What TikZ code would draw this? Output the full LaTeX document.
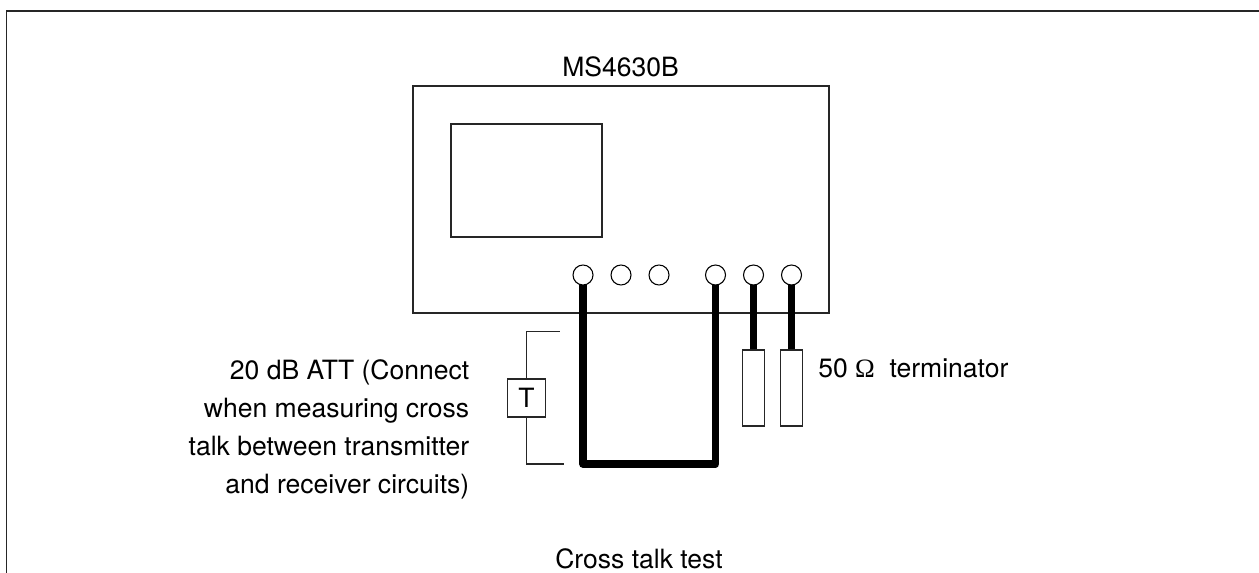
\documentclass[tikz,border=0pt]{standalone}
\usepackage{fontspec}
\setmainfont{TeX Gyre Heros}
\newfontfamily\omegafont{Liberation Serif}
\tikzset{
  px/.style={x=0.75pt,y=-0.75pt},
  thin line/.style={draw=black!85,line width=0.9pt},
  port/.style={circle,draw=black,line width=0.8pt,fill=white,minimum size=15pt,inner sep=0pt},
  cable/.style={line width=5.8pt,line join=round,line cap=butt},
  term/.style={rectangle,draw=black!85,line width=0.8pt,fill=white,minimum width=17pt,minimum height=57pt,inner sep=0pt},
  lbl/.style={inner sep=0pt,font=\fontsize{19.9}{28.5}\selectfont},
}
\begin{document}
\begin{tikzpicture}[px]
\useasboundingbox (0,0) rectangle (1259,573);
\coordinate (ftl) at (6.5,11);
\coordinate (ftr) at (1259,11);
\coordinate (fbl) at (6.5,573);
\draw[thin line] (fbl) -- (ftl) -- (ftr);
\node[thin line,rectangle,minimum width=312pt,minimum height=170.25pt,inner sep=0pt] (dev) at (621,199.5) {};
\node[thin line,rectangle,minimum width=113.25pt,minimum height=84.75pt,inner sep=0pt] (screen) at (526.5,180.5) {};
\node[lbl,anchor=base] (title) at (620.5,77) {MS4630B};
\coordinate (c1) at (583,464);
\coordinate (c2) at (715.5,464);
\node[term] (t1) at (753.5,388) {};
\node[term] (t2) at (791.5,388) {};
\draw[cable] (583,275) -- (c1) -- (c2) -- (715.5,275);
\draw[cable] (753.5,275) -- (t1.north);
\draw[cable] (791.5,275) -- (t2.north);
\node[port] (p1) at (583,275) {};
\node[port] (p2) at (621,275) {};
\node[port] (p3) at (659,275) {};
\node[port] (p4) at (715.5,275) {};
\node[port] (p5) at (753.5,275) {};
\node[port] (p6) at (791.5,275) {};
\node[thin line,rectangle,minimum size=28.5pt,inner sep=0pt,font=\fontsize{19.9}{22}\selectfont] (att) at (526.5,398) {T};
\coordinate (bt) at (560,331.5);
\coordinate (btc) at (526.5,331.5);
\coordinate (bb) at (564,464);
\coordinate (bbc) at (526.5,464);
\draw[thin line] (att.north) -- (btc) -- (bt);
\draw[thin line] (att.south) -- (bbc) -- (bb);
\node[lbl,anchor=base east,align=right] (note) at (469.5,493) {20 dB ATT (Connect\\when measuring cross\\talk between transmitter\\and receiver circuits)};
\node[lbl,anchor=base west] (tlabel) at (818,378) {50 {\omegafont Ω}\ \ terminator};
\node[lbl,anchor=base west] (caption) at (555,568) {Cross talk test};
\end{tikzpicture}
\end{document}
